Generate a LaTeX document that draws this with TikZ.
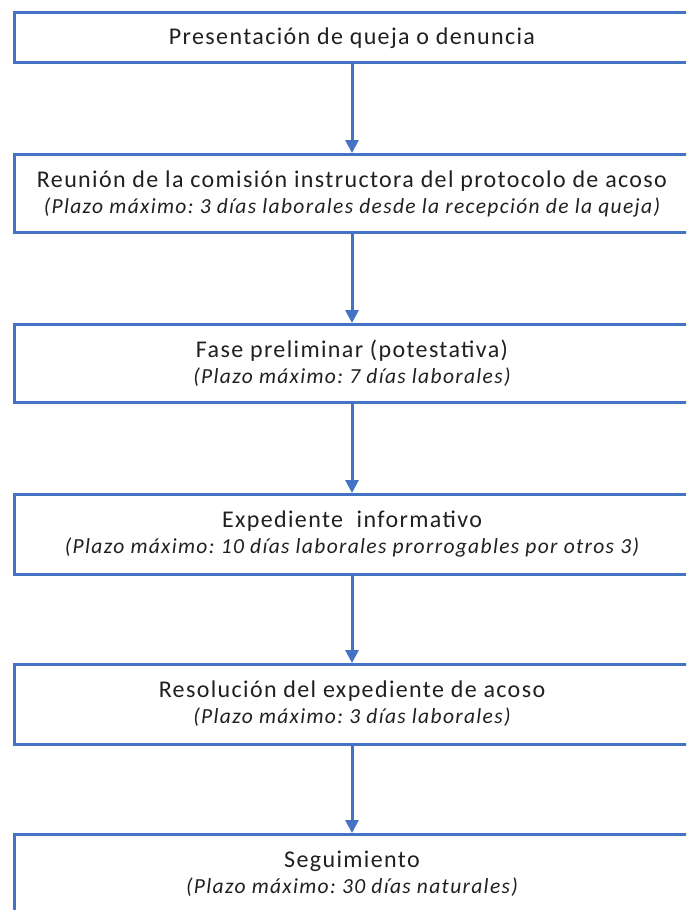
\documentclass[tikz,border=0pt]{standalone}
\usepackage{fontspec}
\setmainfont{Carlito}
\usetikzlibrary{arrows.meta}
\definecolor{boxblue}{HTML}{4472C4}
\definecolor{txt}{HTML}{202020}
\frenchspacing
\newcommand{\mainfnt}{\fontsize{24}{28}\selectfont\addfontfeature{LetterSpace=5.7}}
\newcommand{\notefnt}{\fontsize{21.5}{25}\selectfont\itshape\addfontfeature{LetterSpace=6.2}}
\begin{document}
\begin{tikzpicture}[x=1pt,y=-1pt,
  flowbox/.style={draw=boxblue, line width=3pt, fill=white, minimum width=676pt, inner sep=0pt},
  mainlab/.style={anchor=base, inner sep=0pt, text=txt, font=\mainfnt},
  notelab/.style={anchor=base, inner sep=0pt, text=txt, font=\notefnt},
  flowarrow/.style={draw=boxblue, line width=3pt, -{Triangle[length=13pt,width=13pt]}}]
\useasboundingbox (0,0) rectangle (686,910);
\begin{scope}
\clip (0,0) rectangle (686,910);
\node[flowbox, minimum height=50pt] (b1) at (352,37) {};
\node[flowbox, minimum height=77.5pt] (b2) at (352,193.25) {};
\node[flowbox, minimum height=77.5pt] (b3) at (352,363.25) {};
\node[flowbox, minimum height=79.5pt] (b4) at (352,534.25) {};
\node[flowbox, minimum height=79.5pt] (b5) at (352,704.25) {};
\node[flowbox, minimum height=79.5pt] (b6) at (352,874.25) {};
\node[mainlab] (t1) at (352,44.5) {Presentación de queja o denuncia};
\node[mainlab] (t2) at (352,187.5) {Reunión de la comisión instructora del protocolo de acoso};
\node[notelab] (n2) at (352,213) {(Plazo máximo: 3 días laborales desde la recepción de la queja)};
\node[mainlab] (t3) at (352,357.5) {Fase preliminar (potestativa)};
\node[notelab] (n3) at (352,383) {(Plazo máximo: 7 días laborales)};
\node[mainlab] (t4) at (352,527.5) {Expediente\ \ informativo};
\node[notelab] (n4) at (352,553) {(Plazo máximo: 10 días laborales prorrogables por otros 3)};
\node[mainlab] (t5) at (352,697.5) {Resolución del expediente de acoso};
\node[notelab] (n5) at (352,723) {(Plazo máximo: 3 días laborales)};
\node[mainlab] (t6) at (352,867.5) {Seguimiento};
\node[notelab] (n6) at (352,893.2) {(Plazo máximo: 30 días naturales)};
\draw[flowarrow] (b1.south) -- (b2.north);
\draw[flowarrow] (b2.south) -- (b3.north);
\draw[flowarrow] (b3.south) -- (b4.north);
\draw[flowarrow] (b4.south) -- (b5.north);
\draw[flowarrow] (b5.south) -- (b6.north);
\end{scope}
\end{tikzpicture}
\end{document}
